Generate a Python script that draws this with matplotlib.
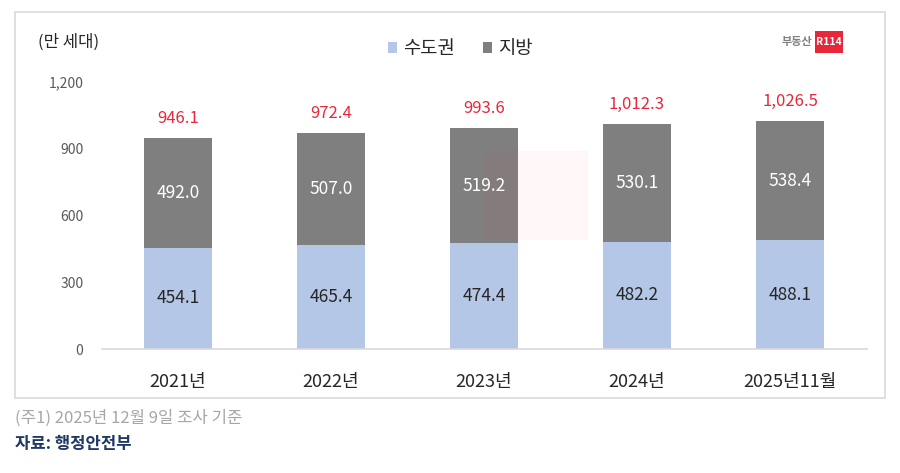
import matplotlib
matplotlib.use("Agg")
import matplotlib.pyplot as plt
from matplotlib.patches import Rectangle
import numpy as np

plt.rcParams['font.family'] = ['Noto Sans CJK KR', 'DejaVu Sans']

categories = ['2021년', '2022년', '2023년', '2024년', '2025년11월']
capital = [454.1, 465.4, 474.4, 482.2, 488.1]
regional = [492.0, 507.0, 519.2, 530.1, 538.4]
totals = [946.1, 972.4, 993.6, 1012.3, 1026.5]
yticks = [0, 300, 600, 900, 1200]

blue = '#b4c7e7'
gray = '#7f7f7f'
red = '#e8283a'

fig = plt.figure(figsize=(9, 4.73), dpi=100)
W, H = 900, 473

# outer chart box
box = Rectangle((15 / W, 1 - 398 / H), 870 / W, 386 / H, transform=fig.transFigure,
                facecolor='white', edgecolor='#d9d9d9', linewidth=1.2, zorder=-5)
fig.patches.append(box)

ax = fig.add_axes([101.5 / W, 1 - 349 / H, 765 / W, 267 / H])
ax.set_zorder(2)
ax.patch.set_alpha(0)
x = np.arange(len(categories))
bw = 0.44
ax.bar(x, capital, bw, color=blue, label='수도권', zorder=2)
ax.bar(x, regional, bw, bottom=capital, color=gray, label='지방', zorder=2)

for i in range(len(x)):
    ax.text(x[i], capital[i] / 2, f'{capital[i]:.1f}', ha='center', va='center',
            fontsize=12.5, color='#262626', zorder=4)
    ax.text(x[i], capital[i] + regional[i] / 2, f'{regional[i]:.1f}', ha='center',
            va='center', fontsize=12.5, color='white', zorder=4)
    ax.annotate(f'{totals[i]:,.1f}', (x[i], totals[i]), xytext=(0, 8),
                textcoords='offset points', ha='center', va='bottom',
                fontsize=12, color=red)

ax.set_xlim(-0.5, len(x) - 0.5)
ax.set_ylim(0, 1200)
ax.set_yticks(yticks)
ax.set_yticklabels([f'{v:,}' for v in yticks], fontsize=10, color='#595959')
ax.set_xticks(x)
ax.set_xticklabels(categories, fontsize=13, color='#262626')
ax.tick_params(axis='both', length=0)
ax.tick_params(axis='y', pad=13)
ax.tick_params(axis='x', pad=17)
for s in ['top', 'right', 'left']:
    ax.spines[s].set_visible(False)
ax.spines['bottom'].set_color('#d9d9d9')
ax.spines['bottom'].set_linewidth(1.2)

# faint watermark block behind the middle bars
ax.add_patch(Rectangle((2.0, 490), 0.68, 400, facecolor='#e8283a', alpha=0.04,
                       edgecolor='none', zorder=3))

leg = ax.legend(loc='upper center', bbox_to_anchor=(0.5 + (-24) / 765, 1 + 61 / 267),
                ncol=2, frameon=False, fontsize=13.5, handlelength=0.5, handleheight=0.5,
                handletextpad=0.3, columnspacing=1.5)
for t in leg.get_texts():
    t.set_color('#262626')

fig.text(38 / W, 1 - 42 / H, '(만 세대)', fontsize=12, color='#262626', va='center')

# logo
fig.text(812 / W, 1 - 42 / H, '부동산', fontsize=8, color='#808080', ha='right',
         va='center', fontweight='bold')
logo = Rectangle((815 / W, 1 - 53 / H), 28 / W, 22 / H, transform=fig.transFigure,
                 facecolor='#e8283a', edgecolor='none')
fig.patches.append(logo)
fig.text(829 / W, 1 - 42 / H, 'R114', fontsize=7.5, color='white', ha='center',
         va='center', fontweight='bold')

fig.text(15 / W, 1 - 418 / H, '(주1) 2025년 12월 9일 조사 기준', fontsize=12,
         color='#a6a6a6', va='center')
fig.text(15 / W, 1 - 444 / H, '자료: 행정안전부', fontsize=12, color='#1f3864',
         va='center', fontweight='bold')

fig.savefig('out.png', dpi=100)
